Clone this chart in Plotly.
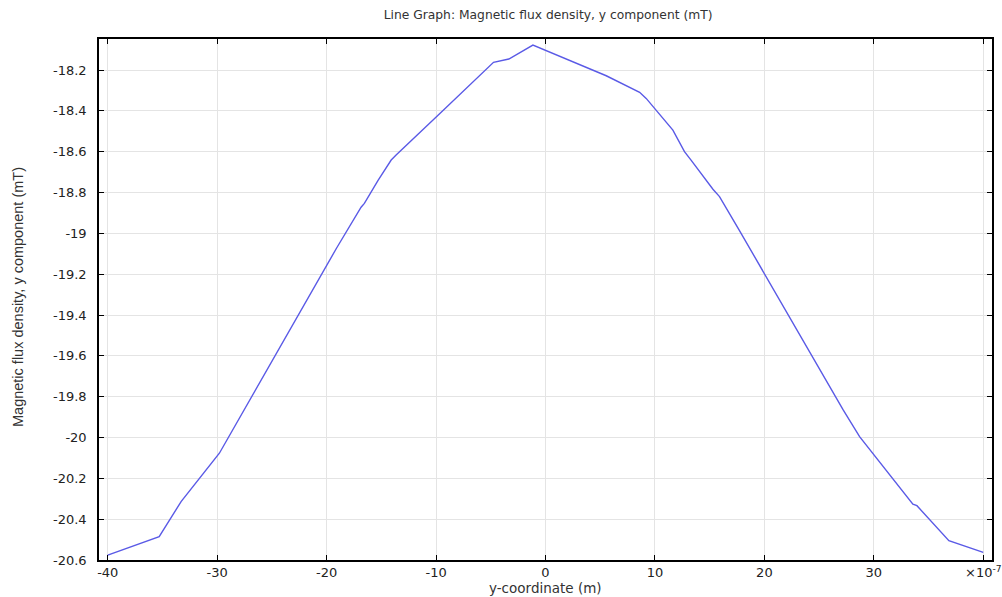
import plotly.graph_objects as go

# y-coordinate (in units of 1e-7 m)
y_coord = [-40.0, -35.3, -33.3, -29.8, -19.1, -16.85, -16.55, -15.3, -14.1, -13.65,
           -9.7, -4.75, -3.35, -1.15, 5.55, 8.6, 9.2, 11.64, 12.7, 13.3,
           15.3, 15.9, 17.7, 27.2, 28.7, 33.57, 33.94, 36.86, 40.0]
# Magnetic flux density, y component (mT)
b_y = [-20.576, -20.486, -20.314, -20.077, -19.073, -18.872, -18.853, -18.74, -18.641, -18.616,
       -18.415, -18.162, -18.146, -18.078, -18.228, -18.309, -18.339, -18.494, -18.6, -18.641,
       -18.784, -18.82, -18.984, -19.865, -19.996, -20.327, -20.334, -20.505, -20.563]

x_tickvals = [-40, -30, -20, -10, 0, 10, 20, 30, 40]
x_ticktext = ["-40", "-30", "-20", "-10", "0", "10", "20", "30", "×10<sup>-7</sup>"]
y_tickvals = [-18.2, -18.4, -18.6, -18.8, -19.0, -19.2, -19.4, -19.6, -19.8,
              -20.0, -20.2, -20.4, -20.6]
y_ticktext = ["-18.2", "-18.4", "-18.6", "-18.8", "-19", "-19.2", "-19.4", "-19.6", "-19.8",
              "-20", "-20.2", "-20.4", "-20.6"]

fig = go.Figure()
fig.add_trace(go.Scatter(x=y_coord, y=b_y, mode="lines",
                         line=dict(color="#5a5ae6", width=1.4), showlegend=False))

tickfont = dict(family="DejaVu Sans", size=13, color="#222222")
fig.update_layout(
    width=1002, height=597,
    margin=dict(l=99, r=10, t=39, b=37, autoexpand=False),
    paper_bgcolor="white", plot_bgcolor="white",
    title=dict(text="Line Graph: Magnetic flux density, y component (mT)",
               font=dict(family="DejaVu Sans", size=12.3, color="#333333"),
               x=0.547, xanchor="center", xref="container",
               y=1 - 15 / 597, yanchor="middle", yref="container"),
)
fig.update_xaxes(range=[-40.8, 40.8], tickvals=x_tickvals, ticktext=x_ticktext,
                 automargin=False,
                 showgrid=True, gridcolor="#e4e4e4", gridwidth=1,
                 zeroline=False, showline=True, linecolor="black", linewidth=1.5,
                 mirror="ticks", ticks="inside", ticklen=5, tickcolor="black",
                 tickfont=tickfont)
fig.update_yaxes(range=[-20.6, -18.048], tickvals=y_tickvals, ticktext=y_ticktext,
                 automargin=False,
                 showgrid=True, gridcolor="#e4e4e4", gridwidth=1,
                 zeroline=False, showline=True, linecolor="black", linewidth=1.5,
                 mirror="ticks", ticks="inside", ticklen=5, tickcolor="black",
                 tickfont=tickfont, ticklabelstandoff=8)

# axis titles as annotations for exact placement
fig.add_annotation(text="y-coordinate (m)", xref="paper", yref="paper",
                   x=0.5, y=-28 / 521, xanchor="center", yanchor="middle",
                   showarrow=False,
                   font=dict(family="DejaVu Sans", size=13.5, color="#333333"))
fig.add_annotation(text="Magnetic flux density, y component (mT)", xref="paper", yref="paper",
                   x=(18 - 99) / 893, y=(560 - 297) / 521, xanchor="center", yanchor="middle",
                   textangle=-90, showarrow=False,
                   font=dict(family="Liberation Sans", size=14.5, color="#333333"))

fig.write_html("out.html")
